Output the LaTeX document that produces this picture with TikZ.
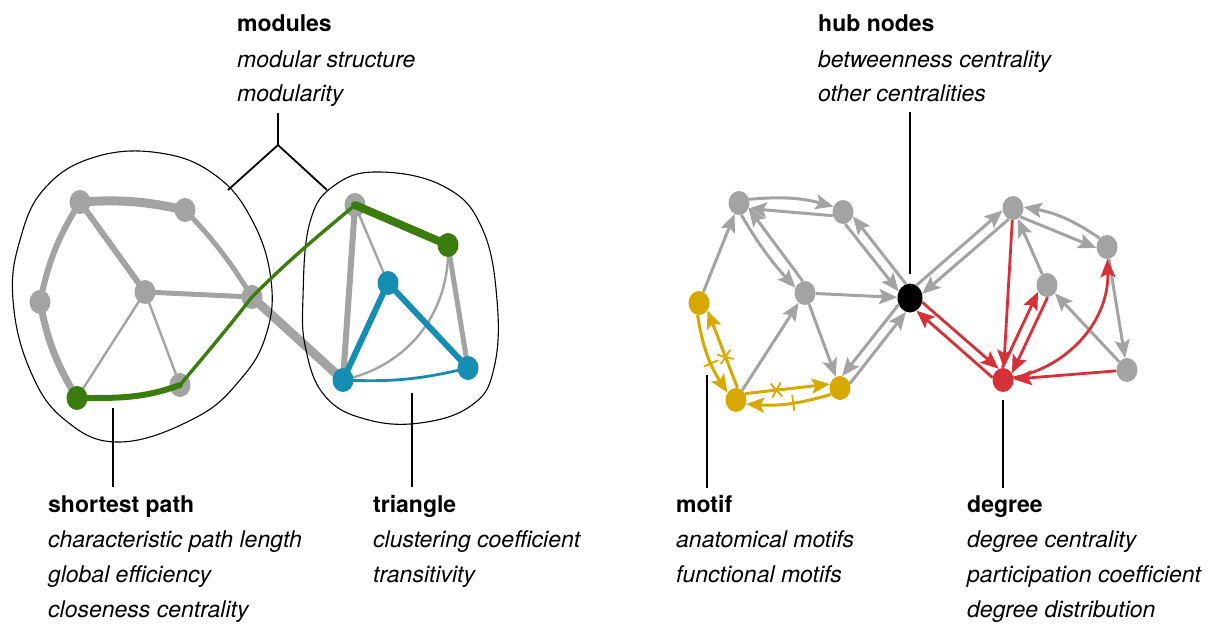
\documentclass[tikz,border=0pt]{standalone}
\usepackage{fontspec}
\setmainfont{TeX Gyre Heros}
\usepackage{xcolor}
\usepackage{tikz}
\usetikzlibrary{arrows.meta,shapes.geometric,backgrounds,decorations.markings}

\definecolor{edgegray}{RGB}{163,163,163}
\definecolor{pathgreen}{RGB}{58,125,14}
\definecolor{triblue}{RGB}{22,142,178}
\definecolor{motifyellow}{RGB}{214,168,0}
\definecolor{degreered}{RGB}{212,50,56}

\tikzset{
  dot/.style={ellipse, fill=edgegray, inner sep=0pt, minimum width=21pt, minimum height=24pt},
  bigdot/.style={dot, fill=black, minimum width=25pt, minimum height=29pt},
  link/.style={edgegray, line cap=round},
  arc/.style={edgegray, line width=3pt, -{Stealth[length=18pt,width=15pt,inset=3.5pt]}},
  redarc/.style={arc, degreered, line width=2.8pt},
  yelarc/.style={arc, motifyellow},
  leader/.style={black, line width=1.8pt},
  blob/.style={black, line width=1.1pt},
  headline/.style={font=\fontsize{23}{35}\bfseries\selectfont, anchor=base west, inner sep=0pt},
  subline/.style={font=\fontsize{23}{35}\itshape\selectfont, anchor=base west, inner sep=0pt},
  tickmid/.style={postaction={decorate}, decoration={markings,
      mark=at position #1 with {\draw[line width=1.8pt,-] (0,-8pt) -- (0,8pt);}}},
  crossmid/.style={postaction={decorate}, decoration={markings,
      mark=at position #1 with {\draw[line width=1.8pt,-] (-5pt,-7pt) -- (5pt,7pt) (-5pt,7pt) -- (5pt,-7pt);}}},
}

\begin{document}
\begin{tikzpicture}[x=1pt,y=-1pt]
  \useasboundingbox (0,0) rectangle (1216,626);

  % left network, two modules
  \node[dot] (A) at (80,202) {};
  \node[dot] (B) at (185,210) {};
  \node[dot] (C) at (40,302) {};
  \node[dot] (D) at (145,292) {};
  \node[dot] (E) at (252,297) {};
  \node[dot] (F) at (180,385) {};
  \node[dot, fill=pathgreen] (G) at (77,398) {};
  \node[dot] (H) at (355,205) {};
  \node[dot, fill=pathgreen] (I) at (448,245) {};
  \node[dot, fill=triblue] (J) at (388,283) {};
  \node[dot, fill=triblue] (K) at (343,380) {};
  \node[dot, fill=triblue] (L) at (468,368) {};

  \begin{scope}[on background layer]
    \draw[link, line width=9pt] (A.center) to[bend left=8] (B.center);
    \draw[link, line width=6pt] (A.center) to[bend right=10] (C.center);
    \draw[link, line width=7pt] (C.center) to[bend right=10] (G.center);
    \draw[link, line width=6pt] (A.center) -- (D.center);
    \draw[link, line width=5pt] (B.center) to[bend left=6] (E.center);
    \draw[link, line width=5pt] (D.center) -- (E.center);
    \draw[link, line width=2.4pt] (D.center) -- (G.center);
    \draw[link, line width=2.4pt] (D.center) -- (F.center);
    \draw[link, line width=9pt] (E.center) -- (K.center);
    \draw[link, line width=6pt] (H.center) -- (K.center);
    \draw[link, line width=2.4pt] (H.center) -- (J.center);
    \draw[link, line width=5pt] (I.center) -- (L.center);
    \draw[link, line width=2.4pt] (K.center) to[bend right=40] (I.center);
    % modules
    \draw[blob] plot[smooth cycle, tension=0.7] coordinates {(13,300) (20,240) (45,188) (95,157) (160,153)
      (215,175) (252,220) (271,280) (266,335) (240,380) (195,418) (120,442) (65,420) (30,370)};
    \draw[blob] plot[smooth cycle, tension=0.7] coordinates {(303,297) (310,222) (335,185) (380,172) (445,187)
      (482,228) (497,300) (494,368) (472,405) (420,423) (365,419) (325,396) (306,350)};
  \end{scope}

  % shortest path and triangle
  \draw[pathgreen, line width=6pt, line cap=round] (G.center) to[out=0,in=-160] (F.center);
  \draw[pathgreen, line width=3.4pt, line join=round] (F.center) to[out=50,in=-128] (E.center) to[out=45,in=-140] (H.center);
  \draw[pathgreen, line width=8pt, line cap=round] (H.center) -- (I.center);
  \draw[triblue, line width=6pt, line join=round] (K.center) -- (J.center) -- (L.center);
  \draw[triblue, line width=2.8pt] (K.center) to[bend right=8] (L.center);

  % right network, directed
  \node[dot] (R1) at (739,203) {};
  \node[dot] (R2) at (843,212) {};
  \node[dot] (R3) at (805,293) {};
  \node[bigdot] (hub) at (910,298) {};
  \node[dot, fill=motifyellow] (Y1) at (699,303) {};
  \node[dot, fill=motifyellow] (Y2) at (736,400) {};
  \node[dot, fill=motifyellow] (Y3) at (840,388) {};
  \node[dot] (S1) at (1013,208) {};
  \node[dot] (S2) at (1107,247) {};
  \node[dot] (S3) at (1047,285) {};
  \node[dot] (S4) at (1127,370) {};
  \node[dot, fill=degreered] (Rd) at (1003,380) {};

  \draw[arc] (Y1) -- (R1);
  \draw[arc] (R1.20) to[bend left=10] (R2.150);
  \draw[arc] (R2.200) -- (R1.-30);
  \draw[arc] (R1.-79) to[bend right=6] (R3.151);
  \draw[arc] (R3.101) -- (R1.-29);
  \draw[arc] (R2.-80) -- (hub.150);
  \draw[arc] (hub.106) -- (R2.-24);
  \draw[arc] (R3) -- (hub);
  \draw[arc] (R3) -- (Y3);
  \draw[arc] (Y2) -- (R3);
  \draw[arc] (Y3.24) -- (hub.254);
  \draw[arc] (hub.210) -- (Y3.80);
  \draw[arc] (hub.63) -- (S1.193);
  \draw[arc] (S1.249) -- (hub.19);
  \draw[arc] (S1.-50) -- (S2.185);
  \draw[arc] (S2.130) to[bend right=12] (S1.5);
  \draw[arc] (S3) -- (S1);
  \draw[arc] (S2) -- (S4);
  \draw[arc] (S4) -- (S3);

  \draw[redarc] (hub.-19) -- (Rd.111);
  \draw[redarc] (Rd.167) -- (hub.-63);
  \draw[redarc] (S1) -- (Rd);
  \draw[redarc] (Rd.93) -- (S3.217);
  \draw[redarc] (S3.273) -- (Rd.37);
  \draw[redarc] (Rd) to[bend right=40] (S2);
  \draw[redarc] (S4) -- (Rd);

  \draw[yelarc, tickmid=0.6] (Y1.-97) to[bend right=12] (Y2.139);
  \draw[yelarc, crossmid=0.4] (Y2.83) -- (Y1.-41);
  \draw[yelarc, crossmid=0.37] (Y2.35) -- (Y3.159);
  \draw[yelarc, tickmid=0.45] (Y3.215) to[bend left=10] (Y2.-22);

  % labels
  \coordinate (modtop) at (278,113);
  \coordinate (modjoin) at (278,145);
  \coordinate (modl) at (228,190);
  \coordinate (modr) at (327,190);
  \draw[leader] (modtop) -- (modjoin) -- (modl) (modjoin) -- (modr);
  \coordinate (hubtop) at (910,112);
  \draw[leader, shorten <=9pt] (hub.north) -- (hubtop);
  \coordinate (sptop) at (113,408);
  \coordinate (spbot) at (113,487);
  \draw[leader] (sptop) -- (spbot);
  \coordinate (tritop) at (412,393);
  \coordinate (tribot) at (412,487);
  \draw[leader] (tritop) -- (tribot);
  \coordinate (motiftop) at (707,375);
  \coordinate (motifbot) at (707,488);
  \draw[leader] (motiftop) -- (motifbot);
  \coordinate (degbot) at (1003,488);
  \draw[leader, shorten <=8pt] (Rd.south) -- (degbot);

  \node[headline] (modtitle) at (237,32) {modules};
  \foreach \t [count=\i] in {modular structure,modularity}
    \node[subline] (mod\i) at (237,32+35*\i) {\t};
  \node[headline] (hubtitle) at (818,32) {hub nodes};
  \foreach \t [count=\i] in {betweenness centrality,other centralities}
    \node[subline] (hubsub\i) at (818,32+35*\i) {\t};
  \node[headline] (sptitle) at (48,512) {shortest path};
  \foreach \t [count=\i] in {characteristic path length,global efficiency,closeness centrality}
    \node[subline] (sp\i) at (48,512+35*\i) {\t};
  \node[headline] (trititle) at (373,512) {triangle};
  \foreach \t [count=\i] in {clustering coefficient,transitivity}
    \node[subline] (tri\i) at (373,512+35*\i) {\t};
  \node[headline] (motiftitle) at (676,512) {motif};
  \foreach \t [count=\i] in {anatomical motifs,functional motifs}
    \node[subline] (motif\i) at (676,512+35*\i) {\t};
  \node[headline] (degtitle) at (967,512) {degree};
  \foreach \t [count=\i] in {degree centrality,participation coefficient,degree distribution}
    \node[subline] (deg\i) at (967,512+35*\i) {\t};
\end{tikzpicture}
\end{document}
